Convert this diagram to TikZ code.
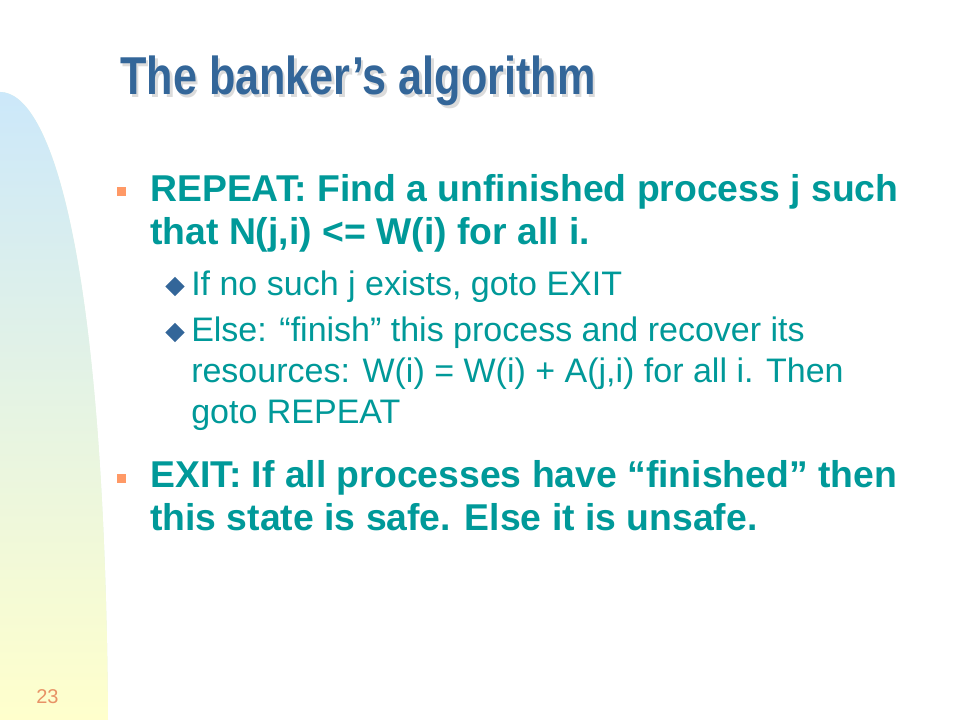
\documentclass[tikz,border=0pt]{standalone}
\usepackage{fontspec}
\setmainfont{Liberation Sans}
\newfontfamily\titlefont[FakeStretch=0.81]{Liberation Sans}
\usepackage{xcolor}
\usetikzlibrary{shapes.geometric}
\definecolor{titleblue}{RGB}{51,102,153}
\definecolor{bodyteal}{RGB}{0,153,153}
\definecolor{bulletorange}{RGB}{255,153,102}
\definecolor{panelblue}{RGB}{204,232,250}
\definecolor{panelyellow}{RGB}{255,255,204}
\definecolor{pagenum}{RGB}{232,146,102}
\tikzset{
    slidetitle/.style={
        anchor=base west,
        inner sep=0pt,
        font=\titlefont\fontsize{40}{48}\selectfont\bfseries
    },
    mainpoint/.style={
        anchor=base west,
        inner sep=0pt,
        align=left,
        text=bodyteal,
        font=\fontsize{28}{32.6}\selectfont\bfseries
    },
    subpoint/.style={
        anchor=base west,
        inner sep=0pt,
        align=left,
        text=bodyteal,
        font=\fontsize{25.5}{30.5}\selectfont
    },
    sqbullet/.style={
        rectangle,
        fill=bulletorange,
        inner sep=0pt,
        minimum size=6.75pt
    },
    diabullet/.style={
        diamond,
        fill=titleblue,
        inner sep=0pt,
        minimum width=14.5pt,
        minimum height=14.5pt
    }
}

\begin{document}
\begin{tikzpicture}[x=0.75pt, y=0.75pt]
\useasboundingbox (0,0) rectangle (960,-720);
\fill[white] (0,0) rectangle (960,-720);

% Side panel
\fill[panelblue!50!panelyellow]
    (0,-720) -- (0,-92) .. controls (50,-92) and (105,-250) .. (108,-720) -- cycle;
\shade[top color=panelblue, bottom color=panelyellow]
    (0,-720) -- (0,-92) .. controls (50,-92) and (105,-250) .. (108,-720) -- cycle;

% Title
\node[slidetitle, text=gray!28] (titleshadow) at (122.5,-97.5) {The banker’s algorithm};
\node[slidetitle, text=titleblue] (title) at (120,-95) {The banker’s algorithm};

% REPEAT (base = last line)
\node[sqbullet] (b1) at (121,-191.5) {};
\node[mainpoint] (repeat) at (150,-244.5) {REPEAT: Find a unfinished process j such\\that N(j,i) <= W(i) for all i.};

% Sub points
\node[diabullet] (d1) at (175,-286.5) {};
\node[subpoint] (nosuch) at (191,-295.5) {If no such j exists, goto EXIT};
\node[diabullet] (d2) at (175,-332.5) {};
\node[subpoint] (elsepart) at (191,-423.3) {Else: “finish” this process and recover its\\resources: W(i) = W(i) + A(j,i) for all i. Then\\goto REPEAT};

% EXIT
\node[sqbullet] (b2) at (121,-478) {};
\node[mainpoint] (exit) at (150,-530.5) {EXIT: If all processes have “finished” then\\this state is safe. Else it is unsafe.};

% Page number
\node[anchor=base west, inner sep=0pt, text=pagenum, font=\fontsize{15}{18}\selectfont] (pagenum) at (36,-703) {23};

\end{tikzpicture}
\end{document}
